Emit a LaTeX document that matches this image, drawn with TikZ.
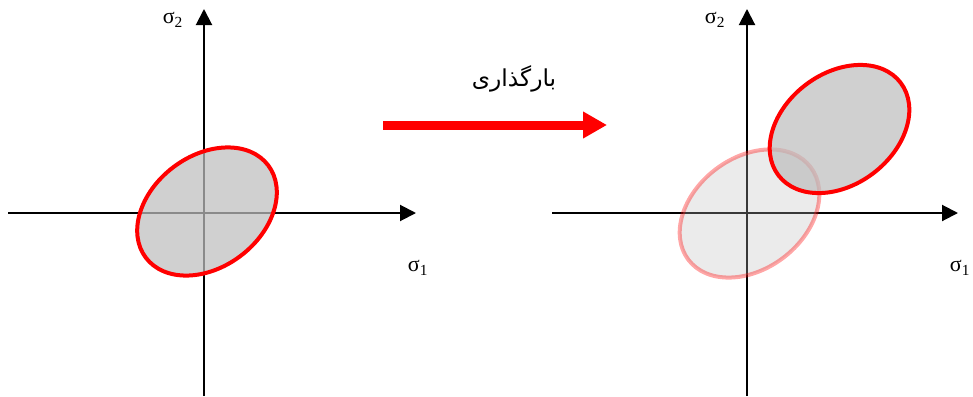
\documentclass[tikz,border=0pt]{standalone}
\usepackage{fontspec}
\setmainfont{Liberation Serif}
\newfontfamily\persianfont[Script=Arabic]{DejaVu Sans}
\TeXXeTstate=1
\usetikzlibrary{arrows.meta,shapes.geometric}
\begin{document}
\begin{tikzpicture}[x=0.75pt,y=-0.75pt,
  axis/.style={line width=1.5pt,-{Triangle[length=12pt,width=12pt]}},
  stressell/.style={ellipse,draw=red,line width=3pt,
    fill={rgb,255:red,190;green,190;blue,190},fill opacity=0.73,
    minimum width=115pt,minimum height=83.5pt,inner sep=0pt,outer sep=0pt,rotate=37},
  faded/.style={draw opacity=0.35,fill opacity=0.3},
  lbl/.style={font=\fontsize{16.5}{18}\selectfont,inner sep=0pt},
  load/.style={line width=6.75pt,red,-{Triangle[length=18pt,width=19pt]}}]
\useasboundingbox (0,0) rectangle (973,396);
% left axes
\coordinate (Lb) at (204,396);
\coordinate (Lt) at (204,9);
\coordinate (Ll) at (8,213);
\coordinate (Lr) at (416,213);
\draw[axis] (Lb) -- (Lt);
\draw[axis] (Ll) -- (Lr);
\node[stressell] (E1) at (207,211.5) {};
\node[lbl] (s2L) at (173,20) {σ\textsubscript{2}};
\node[lbl] (s1L) at (418,268) {σ\textsubscript{1}};
% right axes
\coordinate (Rb) at (747,396);
\coordinate (Rt) at (747,9);
\coordinate (Rl) at (552,213);
\coordinate (Rr) at (958,213);
\draw[axis] (Rb) -- (Rt);
\draw[axis] (Rl) -- (Rr);
\node[stressell,faded] (E2) at (749.5,213.5) {};
\node[stressell] (E3) at (839.5,129) {};
\node[lbl] (s2R) at (715,20) {σ\textsubscript{2}};
\node[lbl] (s1R) at (960,268) {σ\textsubscript{1}};
% loading arrow
\coordinate (A1) at (383,125);
\coordinate (A2) at (607,125);
\draw[load] (A1) -- (A2);
\node[font=\persianfont\fontsize{17.5}{20}\selectfont,inner sep=0pt] (lab) at (514,79) {\beginR بارگذاری\endR};
\end{tikzpicture}
\end{document}
